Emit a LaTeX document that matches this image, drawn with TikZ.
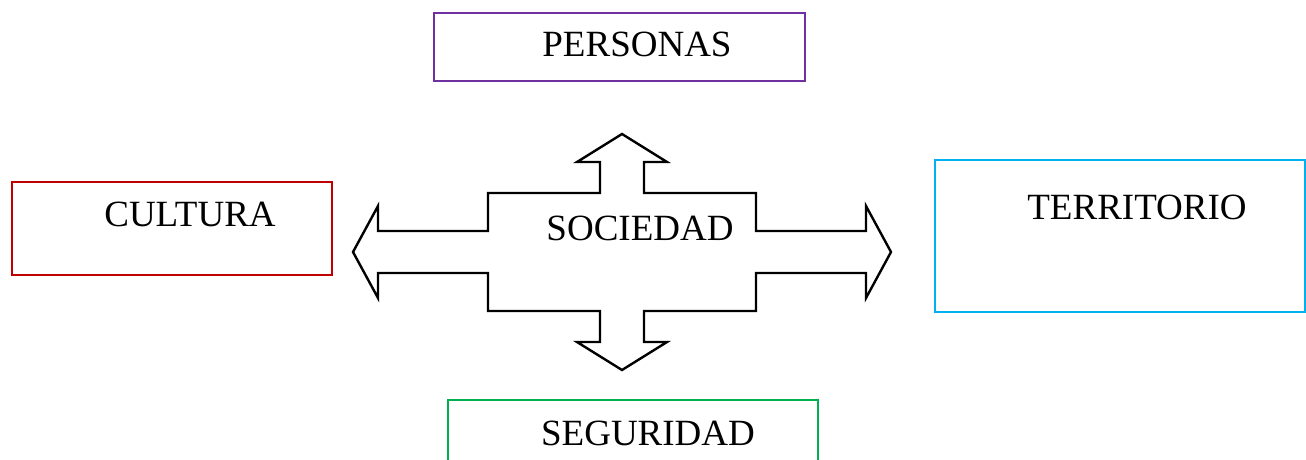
\documentclass[tikz,border=0pt]{standalone}
\usepackage{fontspec}
\setmainfont{Liberation Serif}
\definecolor{violeta}{HTML}{7030A0}
\definecolor{rojo}{HTML}{C00000}
\definecolor{celeste}{HTML}{00B0F0}
\definecolor{verde}{HTML}{00B050}

\begin{document}
\begin{tikzpicture}[x=0.5pt, y=-0.5pt,
    caja/.style={draw, line width=1.2pt, inner sep=0pt, anchor=north west},
    texto/.style={font=\fontsize{18.5}{22}\selectfont, inner sep=0pt, anchor=base}]
    \useasboundingbox (0,0) rectangle (1306,460);
    % Cajas de los cuatro conceptos
    \node[caja, draw=violeta, minimum width=185.5pt, minimum height=34pt] (personas) at (433,12) {};
    \node[caja, draw=rojo, minimum width=160pt, minimum height=46.5pt] (cultura) at (11,181) {};
    \node[caja, draw=celeste, minimum width=185pt, minimum height=76pt] (territorio) at (934,159) {};
    \node[caja, draw=verde, minimum width=185pt, minimum height=36pt] (seguridad) at (447,399) {};
    % Textos
    \node[texto] (tpersonas) at (637,57) {PERSONAS};
    \node[texto] (tcultura) at (190,226) {CULTURA};
    \node[texto] (tterritorio) at (1137,219) {TERRITORIO};
    \node[texto] (tseguridad) at (648,445) {SEGURIDAD};
    % Flecha de cuatro puntas
    \draw[line width=1.2pt, line join=miter] (353,252) -- (378,206) -- (378,231) -- (488,231) -- (488,193)
        -- (600,193) -- (600,162) -- (577,162) -- (622,134) -- (667,162) -- (644,162) -- (644,193)
        -- (756,193) -- (756,231) -- (866,231) -- (866,206) -- (891,252) -- (866,298) -- (866,273)
        -- (756,273) -- (756,311) -- (644,311) -- (644,342) -- (667,342) -- (622,370) -- (577,342)
        -- (600,342) -- (600,311) -- (488,311) -- (488,273) -- (378,273) -- (378,298) -- cycle;
    \node[texto] (sociedad) at (640,240) {SOCIEDAD};
\end{tikzpicture}
\end{document}
